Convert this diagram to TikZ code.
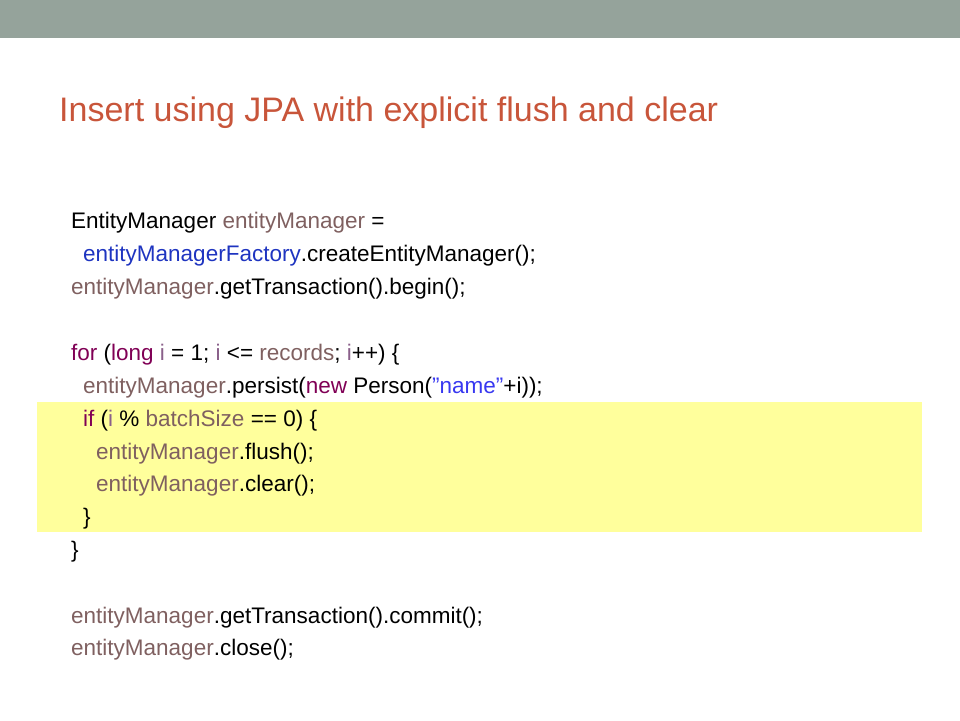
\documentclass[tikz,border=0pt]{standalone}
\usepackage{fontspec}
\setmainfont{Liberation Sans}
\usetikzlibrary{positioning}
\definecolor{barcol}{HTML}{95A39B}
\definecolor{titlecol}{HTML}{C8553A}
\definecolor{fieldcol}{HTML}{7F6060}
\definecolor{typecol}{HTML}{1E34C0}
\definecolor{kwcol}{HTML}{800055}
\definecolor{loccol}{HTML}{8A608A}
\definecolor{strcol}{HTML}{3838F0}
\definecolor{markcol}{HTML}{FFFF9C}
\newcommand{\fld}[1]{\textcolor{fieldcol}{#1}}
\newcommand{\kwd}[1]{\textcolor{kwcol}{#1}}
\newcommand{\loc}[1]{\textcolor{loccol}{#1}}
\tikzset{
  codeline/.style={anchor=base west, inner sep=0pt, font=\fontsize{22.5}{22.5}\selectfont},
  titletext/.style={anchor=base west, inner sep=0pt, text=titlecol, font=\fontsize{34}{34}\selectfont}
}
\begin{document}
\begin{tikzpicture}[x=1pt,y=-1pt]
\useasboundingbox (0,0) rectangle (960,720);
\fill[barcol] (0,0) rectangle (960,38);
\fill[markcol] (37,402) rectangle (922,532);
\node[titletext] (title) at (59,121) {Insert using JPA with explicit flush and clear};
% code
\node[codeline] (l1) at (71,228) {EntityManager \fld{entityManager} =};
\node[codeline] (l2) at (83,261) {\textcolor{typecol}{entityManagerFactory}.createEntityManager();};
\node[codeline] (l3) at (71,294) {\fld{entityManager}.getTransaction().begin();};
\node[codeline] (l4) at (71,360) {\kwd{for} (\kwd{long} \loc{i} = 1; \loc{i} <= \fld{records}; \loc{i}++) \{};
\node[codeline] (l5) at (83,393) {\fld{entityManager}.persist(\kwd{new} Person(\textcolor{strcol}{”name”}+i));};
\node[codeline] (l6) at (83,426) {\kwd{if} (\loc{i} \% \fld{batchSize} == 0) \{};
\node[codeline] (l7) at (96,459) {\fld{entityManager}.flush();};
\node[codeline] (l8) at (96,491) {\fld{entityManager}.clear();};
\node[codeline] (l9) at (83,524) {\}};
\node[codeline] (l10) at (71,557) {\}};
\node[codeline] (l11) at (71,623) {\fld{entityManager}.getTransaction().commit();};
\node[codeline] (l12) at (71,655) {\fld{entityManager}.close();};
\end{tikzpicture}
\end{document}
